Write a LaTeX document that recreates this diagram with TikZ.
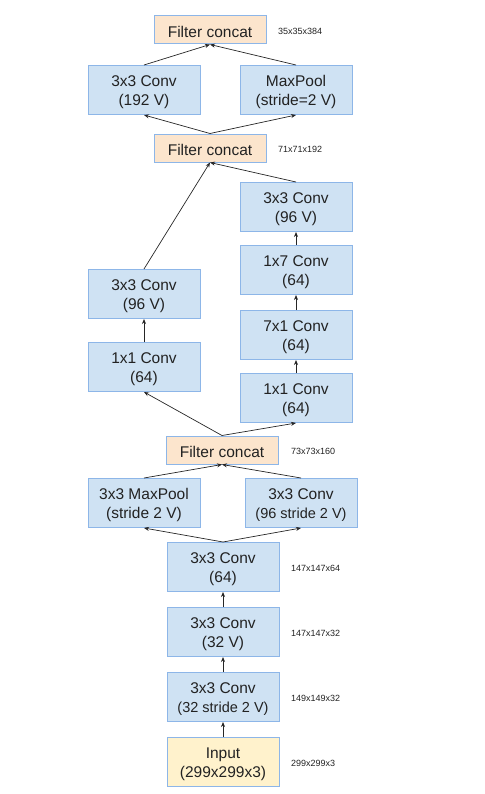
\documentclass[tikz,border=0pt]{standalone}
\usepackage{fontspec}
\setmainfont{Liberation Sans}
\usetikzlibrary{arrows.meta}
\definecolor{boxblue}{HTML}{CFE2F3}
\definecolor{boxborder}{HTML}{8DB6E8}
\definecolor{concatfill}{HTML}{FCE5CD}
\definecolor{inputfill}{HTML}{FFF2CC}
\definecolor{txt}{HTML}{222222}
\newcommand\toprule{\rule{0pt}{15.5bp}}
\begin{document}
\begin{tikzpicture}[x=1bp,y=-1bp,
 box/.style={draw=boxborder, line width=1bp, fill=boxblue, minimum width=112bp, minimum height=49bp,
   align=center, text=txt, font=\fontsize{15.5bp}{19bp}\selectfont, inner sep=0pt},
 concat/.style={box, fill=concatfill, minimum height=28bp},
 inp/.style={box, fill=inputfill},
 dimlabel/.style={anchor=west, text=txt, font=\fontsize{9bp}{11bp}\selectfont, inner sep=0pt},
 arr/.style={-{Stealth[length=5bp,width=4bp]}, line width=0.7bp, draw=black!85}]
\useasboundingbox (0,0) rectangle (485,794);
% top
\node[concat] (fc3) at (210,30) {\toprule Filter concat};
\node[box] (c192) at (144,90) {\toprule 3x3 Conv\\(192 V)};
\node[box] (mp2) at (296,90) {\toprule MaxPool\\(stride=2 V)};
\node[concat] (fc2) at (210,148) {\toprule Filter concat};
% middle branches
\node[box] (r4) at (296,207) {\toprule 3x3 Conv\\(96 V)};
\node[box] (r3) at (296,270) {\toprule 1x7 Conv\\(64)};
\node[box] (r2) at (296,335) {\toprule 7x1 Conv\\(64)};
\node[box] (r1) at (296,398) {\toprule 1x1 Conv\\(64)};
\node[box] (l2) at (144,294) {\toprule 3x3 Conv\\(96 V)};
\node[box] (l1) at (144,367) {\toprule 1x1 Conv\\(64)};
\node[concat] (fc1) at (222,450) {\toprule Filter concat};
\node[box] (mp1) at (144,503) {\toprule 3x3 MaxPool\\(stride 2 V)};
\node[box] (cs) at (301,503) {\toprule 3x3 Conv\\{\fontsize{14.5bp}{19bp}\selectfont(96 stride 2 V)}};
% stem
\node[box] (s3) at (223,567) {\toprule 3x3 Conv\\(64)};
\node[box] (s2) at (223,632) {\toprule 3x3 Conv\\(32 V)};
\node[box] (s1) at (223,697) {\toprule 3x3 Conv\\{\fontsize{14.5bp}{19bp}\selectfont(32 stride 2 V)}};
\node[inp] (in) at (223,762) {\toprule Input\\(299x299x3)};
% dimension labels
\node[dimlabel] (d1) at (278,31) {35x35x384};
\node[dimlabel] (d2) at (278,149) {71x71x192};
\node[dimlabel] (d3) at (291,451) {73x73x160};
\node[dimlabel] (d4) at (291,568) {147x147x64};
\node[dimlabel] (d5) at (291,633) {147x147x32};
\node[dimlabel] (d6) at (291,698) {149x149x32};
\node[dimlabel] (d7) at (291,763) {299x299x3};
% connectors
\draw[arr] (in.north) -- (s1.south);
\draw[arr] (s1.north) -- (s2.south);
\draw[arr] (s2.north) -- (s3.south);
\draw[arr] (s3.north) -- (mp1.south);
\draw[arr] (s3.north) -- (cs.south);
\draw[arr] (mp1.north) -- (fc1.south);
\draw[arr] (cs.north) -- (fc1.south);
\draw[arr] (fc1.north) -- (l1.south);
\draw[arr] (fc1.north) -- (r1.south);
\draw[arr] (l1.north) -- (l2.south);
\draw[arr] (r1.north) -- (r2.south);
\draw[arr] (r2.north) -- (r3.south);
\draw[arr] (r3.north) -- (r4.south);
\draw[arr] (l2.north) -- (fc2.south);
\draw[arr] (r4.north) -- (fc2.south);
\draw[arr] (fc2.north) -- (c192.south);
\draw[arr] (fc2.north) -- (mp2.south);
\draw[arr] (c192.north) -- (fc3.south);
\draw[arr] (mp2.north) -- (fc3.south);
\end{tikzpicture}
\end{document}
